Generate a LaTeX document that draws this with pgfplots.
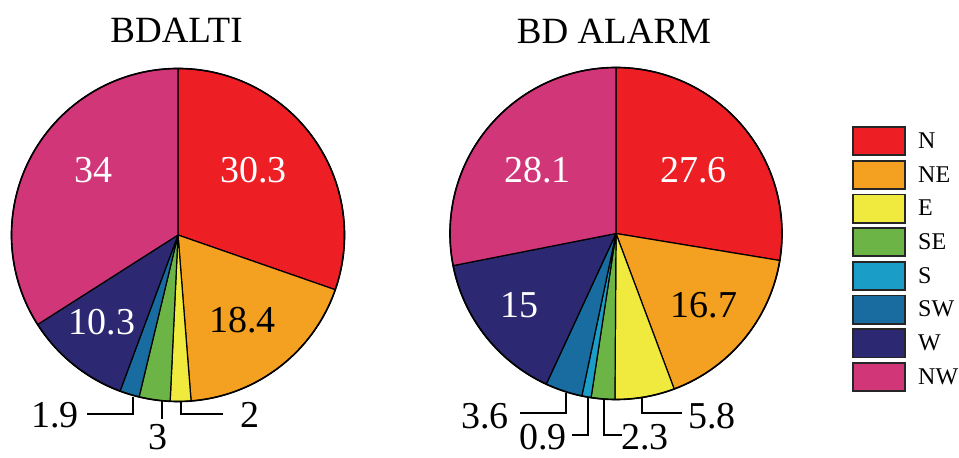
\documentclass[border=0pt]{standalone}
\usepackage{pgfplots}
\usepackage{pgfplotstable}
\pgfplotsset{compat=1.18}
\usepackage{fontspec}
\setmainfont{Liberation Serif}

\definecolor{cN}{RGB}{237,30,36}
\definecolor{cNE}{RGB}{244,160,32}
\definecolor{cE}{RGB}{240,234,62}
\definecolor{cSE}{RGB}{108,180,70}
\definecolor{cS}{RGB}{26,157,198}
\definecolor{cSW}{RGB}{24,108,160}
\definecolor{cW}{RGB}{44,40,114}
\definecolor{cNW}{RGB}{208,54,120}

\tikzset{numlab/.style={font=\fontsize{38}{38}\selectfont, anchor=base, inner sep=0pt}}

\pgfplotstableread{
dir val
N 30.3
NE 18.4
E 2
SE 3
S 0
SW 1.9
W 10.3
NW 34
}\bdalti
\pgfplotstableread{
dir val
N 27.6
NE 16.7
E 5.8
SE 2.3
S 0.9
SW 3.6
W 15
NW 28.1
}\bdalarm

% #1 table, #2 cx, #3 cy, #4 radius (axis units = pt)
\newcommand{\drawpie}[4]{%
  \pgfplotstablegetrowsof{#1}\pgfmathtruncatemacro\nrows{\pgfplotsretval-1}%
  \def\total{0}%
  \pgfplotsforeachungrouped \i in {0,...,\nrows}{%
    \pgfplotstablegetelem{\i}{val}\of{#1}%
    \pgfmathsetmacro\total{\total+\pgfplotsretval}}%
  \def\cum{0}%
  \pgfplotsforeachungrouped \i in {0,...,\nrows}{%
    \pgfplotstablegetelem{\i}{val}\of{#1}\let\sliceval\pgfplotsretval
    \pgfplotstablegetelem{\i}{dir}\of{#1}\let\slicedir\pgfplotsretval
    \pgfmathsetmacro\angA{90-360*(\cum/\total)}%
    \pgfmathsetmacro\cum{\cum+\sliceval}%
    \pgfmathsetmacro\angB{90-360*(\cum/\total)}%
    \pgfmathsetmacro\px{#2+#4*cos(\angA)}%
    \pgfmathsetmacro\py{#3+#4*sin(\angA)}%
    \ifdim\sliceval pt>0pt
      \edef\cmd{\noexpand\filldraw[fill=c\slicedir, draw=black, line width=1.2pt, line join=round] (axis cs:#2,#3) -- (axis cs:\px,\py) arc[start angle=\angA, end angle=\angB, radius=#4pt] -- cycle;}%
      \cmd
    \fi
  }%
  \edef\cmd{\noexpand\draw[line width=1.6pt] (axis cs:#2,#3) circle[radius=#4pt];}\cmd
}

\begin{document}
\begin{tikzpicture}
\begin{axis}[
  x=1pt, y=1pt, xmin=0, xmax=959, ymin=0, ymax=458,
  hide axis, clip=false,
  legend style={at={(axis cs:852,332)}, anchor=north west, draw=none, fill=none,
    inner sep=0pt, row sep=3.7pt, font=\fontsize{24}{24}\selectfont,
    nodes={inner sep=0pt}, cells={anchor=west},
    /tikz/every odd column/.append style={column sep=12pt}},
  legend image code/.code={\draw[#1, draw=black!85, line width=1.8pt] (0.9pt,-14.1pt) rectangle (53.1pt,14.1pt);},
]
\addlegendimage{fill=cN}\addlegendentry{N}
\addlegendimage{fill=cNE}\addlegendentry{NE}
\addlegendimage{fill=cE}\addlegendentry{E}
\addlegendimage{fill=cSE}\addlegendentry{SE}
\addlegendimage{fill=cS}\addlegendentry{S}
\addlegendimage{fill=cSW}\addlegendentry{SW}
\addlegendimage{fill=cW}\addlegendentry{W}
\addlegendimage{fill=cNW}\addlegendentry{NW}

\drawpie{\bdalti}{178}{223}{166.5}
\drawpie{\bdalarm}{616}{224.5}{166}

% titles
\node[font=\fontsize{37}{37}\selectfont, anchor=base, inner sep=0pt] at (axis cs:176.5,415) {BDALTI};
\node[font=\fontsize{37}{37}\selectfont, anchor=base, inner sep=0pt] at (axis cs:614,414) {BD ALARM};

% BDALTI labels
\node[numlab, white] at (axis cs:93.5,275) {34};
\node[numlab, white] at (axis cs:253.5,275) {30.3};
\node[numlab, white] at (axis cs:102,123) {10.3};
\node[numlab] at (axis cs:242.5,125) {18.4};
\node[numlab] at (axis cs:55,30) {1.9};
\node[numlab] at (axis cs:158,8) {3};
\node[numlab] at (axis cs:250,30) {2};
\draw[line width=1.3pt] (axis cs:87,44) -- (axis cs:133,44) -- (axis cs:133,61);
\draw[line width=1.3pt] (axis cs:162,58) -- (axis cs:162,39);
\draw[line width=1.3pt] (axis cs:181,57) -- (axis cs:181,44) -- (axis cs:223,44);

% BD ALARM labels
\node[numlab, white] at (axis cs:537.5,275) {28.1};
\node[numlab, white] at (axis cs:693.5,275) {27.6};
\node[numlab, white] at (axis cs:519.5,140) {15};
\node[numlab] at (axis cs:704,140) {16.7};
\node[numlab] at (axis cs:485,29) {3.6};
\node[numlab] at (axis cs:543,8) {0.9};
\node[numlab] at (axis cs:645,8) {2.3};
\node[numlab] at (axis cs:712,29) {5.8};
\draw[line width=1.3pt] (axis cs:520,45) -- (axis cs:566,45) -- (axis cs:566,65);
\draw[line width=1.3pt] (axis cs:572,23) -- (axis cs:588,23) -- (axis cs:588,60);
\draw[line width=1.3pt] (axis cs:604,58) -- (axis cs:604,23) -- (axis cs:622,23);
\draw[line width=1.3pt] (axis cs:642,60) -- (axis cs:642,45) -- (axis cs:682,45);
\end{axis}
\pgfresetboundingbox
\useasboundingbox (0,0) rectangle (959pt,458pt);
\end{tikzpicture}
\end{document}
